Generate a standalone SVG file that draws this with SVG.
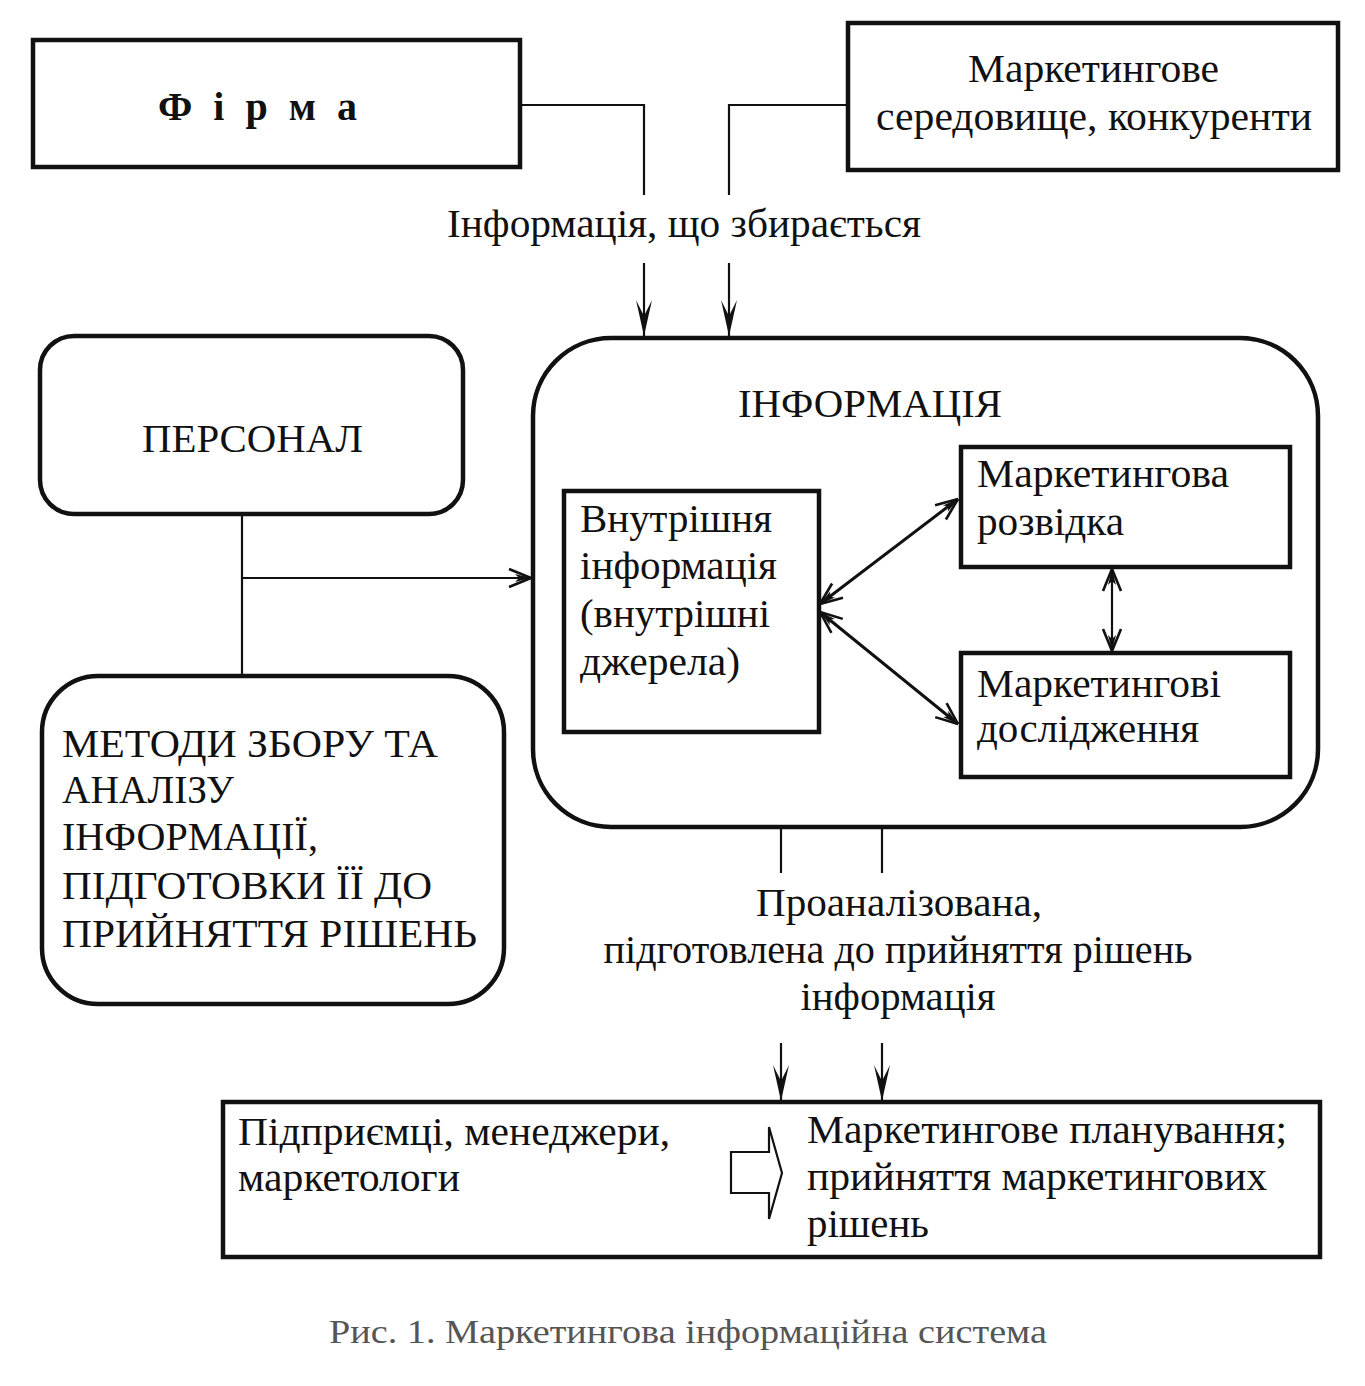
<svg xmlns="http://www.w3.org/2000/svg" width="1365" height="1386" viewBox="0 0 1365 1386">
<style>
  .box { fill: #fff; stroke: #111; stroke-width: 4.5; }
  .t { font-family: "Liberation Serif", "Times New Roman", serif; font-size: 40px; fill: #111; }
  .c { text-anchor: middle; }
  .ln { fill: none; stroke: #111; stroke-width: 2.2; }
  .dl { fill: none; stroke: #111; stroke-width: 3; }
  .cap { font-family: "Liberation Serif", "Times New Roman", serif; font-size: 33px; fill: #555; }
</style>
<defs>
  <marker id="ah" markerUnits="userSpaceOnUse" markerWidth="44" markerHeight="24" viewBox="-40 -12 44 24" refX="0" refY="0" orient="auto-start-reverse">
    <path d="M0,0 L-36,-8 Q-24,-2 -20,0 Q-24,2 -36,8 Z" fill="#111"/>
  </marker>
  <marker id="ah2" markerUnits="userSpaceOnUse" markerWidth="30" markerHeight="24" viewBox="-28 -12 30 24" refX="0" refY="0" orient="auto-start-reverse">
    <path d="M0,0 L-22,-9 M0,0 L-22,9" stroke="#111" stroke-width="2.6" fill="none"/>
    <path d="M0,0 L-16,-4 L-12,0 L-16,4 Z" fill="#111"/>
  </marker>
</defs>

<g id="firma">
  <rect class="box" x="33" y="40" width="487" height="127"/>
  <text class="t" x="158" y="120" font-weight="bold" font-size="37" textLength="199" lengthAdjust="spacing">Ф і р м а</text>
</g>

<g id="seredovyshche">
  <rect class="box" x="848" y="23" width="490" height="147"/>
  <text class="t" x="968" y="82" textLength="251" lengthAdjust="spacingAndGlyphs">Маркетингове</text>
  <text class="t" x="876" y="130" textLength="436" lengthAdjust="spacingAndGlyphs">середовище, конкуренти</text>
</g>

<g id="personal">
  <rect class="box" x="40" y="336" width="423" height="178" rx="34" ry="34"/>
  <text class="t" x="142" y="452" font-size="37" textLength="221" lengthAdjust="spacingAndGlyphs">ПЕРСОНАЛ</text>
</g>

<g id="metody">
  <rect class="box" x="42" y="676" width="462" height="328" rx="56" ry="56"/>
  <g font-size="39">
  <text class="t" x="62" y="757" font-size="39" textLength="376" lengthAdjust="spacingAndGlyphs">МЕТОДИ ЗБОРУ ТА</text>
  <text class="t" x="62" y="803" font-size="39" textLength="172" lengthAdjust="spacingAndGlyphs">АНАЛІЗУ</text>
  <text class="t" x="62" y="850" font-size="39" textLength="256" lengthAdjust="spacingAndGlyphs">ІНФОРМАЦІЇ,</text>
  <text class="t" x="62" y="899" font-size="39" textLength="370" lengthAdjust="spacingAndGlyphs">ПІДГОТОВКИ ЇЇ ДО</text>
  <text class="t" x="62" y="947" font-size="39" textLength="415" lengthAdjust="spacingAndGlyphs">ПРИЙНЯТТЯ РІШЕНЬ</text>
  </g>
</g>

<g id="informatsiia">
  <rect class="box" x="533" y="338" width="785" height="489" rx="78" ry="78"/>
  <text class="t" x="738" y="417" font-size="37" textLength="264" lengthAdjust="spacingAndGlyphs">ІНФОРМАЦІЯ</text>
</g>

<g id="vnutrishnia">
  <rect class="box" x="564" y="491" width="255" height="241"/>
  <text class="t" x="580" y="532" textLength="192" lengthAdjust="spacingAndGlyphs">Внутрішня</text>
  <text class="t" x="580" y="579" textLength="197" lengthAdjust="spacingAndGlyphs">інформація</text>
  <text class="t" x="580" y="627" textLength="190" lengthAdjust="spacingAndGlyphs">(внутрішні</text>
  <text class="t" x="580" y="675" textLength="160" lengthAdjust="spacingAndGlyphs">джерела)</text>
</g>

<g id="rozvidka">
  <rect class="box" x="961" y="447" width="329" height="120"/>
  <text class="t" x="977" y="487" textLength="252" lengthAdjust="spacingAndGlyphs">Маркетингова</text>
  <text class="t" x="977" y="535" textLength="147" lengthAdjust="spacingAndGlyphs">розвідка</text>
</g>

<g id="doslidzhennia">
  <rect class="box" x="961" y="653" width="329" height="124"/>
  <text class="t" x="977" y="697" textLength="244" lengthAdjust="spacingAndGlyphs">Маркетингові</text>
  <text class="t" x="977" y="742" textLength="222" lengthAdjust="spacingAndGlyphs">дослідження</text>
</g>

<g id="pryiniattia">
  <rect class="box" x="223" y="1102" width="1097" height="155"/>
  <text class="t" x="238" y="1145" textLength="432" lengthAdjust="spacingAndGlyphs">Підприємці, менеджери,</text>
  <text class="t" x="238" y="1191" textLength="222" lengthAdjust="spacingAndGlyphs">маркетологи</text>
  <polygon points="731,1152 769,1152 769,1127 782,1173 769,1219 769,1193 731,1193" fill="#fff" stroke="#111" stroke-width="2.2"/>
  <text class="t" x="807" y="1143" textLength="480" lengthAdjust="spacingAndGlyphs">Маркетингове планування;</text>
  <text class="t" x="807" y="1190" textLength="460" lengthAdjust="spacingAndGlyphs">прийняття маркетингових</text>
  <text class="t" x="807" y="1237" textLength="122" lengthAdjust="spacingAndGlyphs">рішень</text>
</g>

<g id="connectors">
  <polyline class="ln" points="520,105 644,105 644,195"/>
  <polyline class="ln" points="848,105 729,105 729,195"/>
  <text class="t c" x="684" y="237" textLength="474" lengthAdjust="spacingAndGlyphs">Інформація, що збирається</text>
  <line class="ln" x1="644" y1="263" x2="644" y2="336" marker-end="url(#ah)"/>
  <line class="ln" x1="729" y1="263" x2="729" y2="336" marker-end="url(#ah)"/>

  <line class="ln" x1="242" y1="514" x2="242" y2="676"/>
  <line class="ln" x1="242" y1="578" x2="531" y2="578" marker-end="url(#ah2)"/>

  <line class="dl" x1="820" y1="604" x2="958" y2="499" marker-start="url(#ah2)" marker-end="url(#ah2)"/>
  <line class="dl" x1="820" y1="612" x2="958" y2="724" marker-start="url(#ah2)" marker-end="url(#ah2)"/>
  <line class="ln" x1="1112" y1="569" x2="1112" y2="651" marker-start="url(#ah2)" marker-end="url(#ah2)"/>

  <line class="ln" x1="781" y1="827" x2="781" y2="873"/>
  <line class="ln" x1="882" y1="827" x2="882" y2="873"/>
  <text class="t c" x="899" y="916" textLength="286" lengthAdjust="spacingAndGlyphs">Проаналізована,</text>
  <text class="t c" x="898" y="963" textLength="589" lengthAdjust="spacingAndGlyphs">підготовлена до прийняття рішень</text>
  <text class="t c" x="898" y="1010" textLength="195" lengthAdjust="spacingAndGlyphs">інформація</text>
  <line class="ln" x1="781" y1="1043" x2="781" y2="1101" marker-end="url(#ah)"/>
  <line class="ln" x1="882" y1="1043" x2="882" y2="1101" marker-end="url(#ah)"/>
</g>

<text class="cap" x="329" y="1343" textLength="718" lengthAdjust="spacingAndGlyphs">Рис. 1. Маркетингова інформаційна система</text>
</svg>
